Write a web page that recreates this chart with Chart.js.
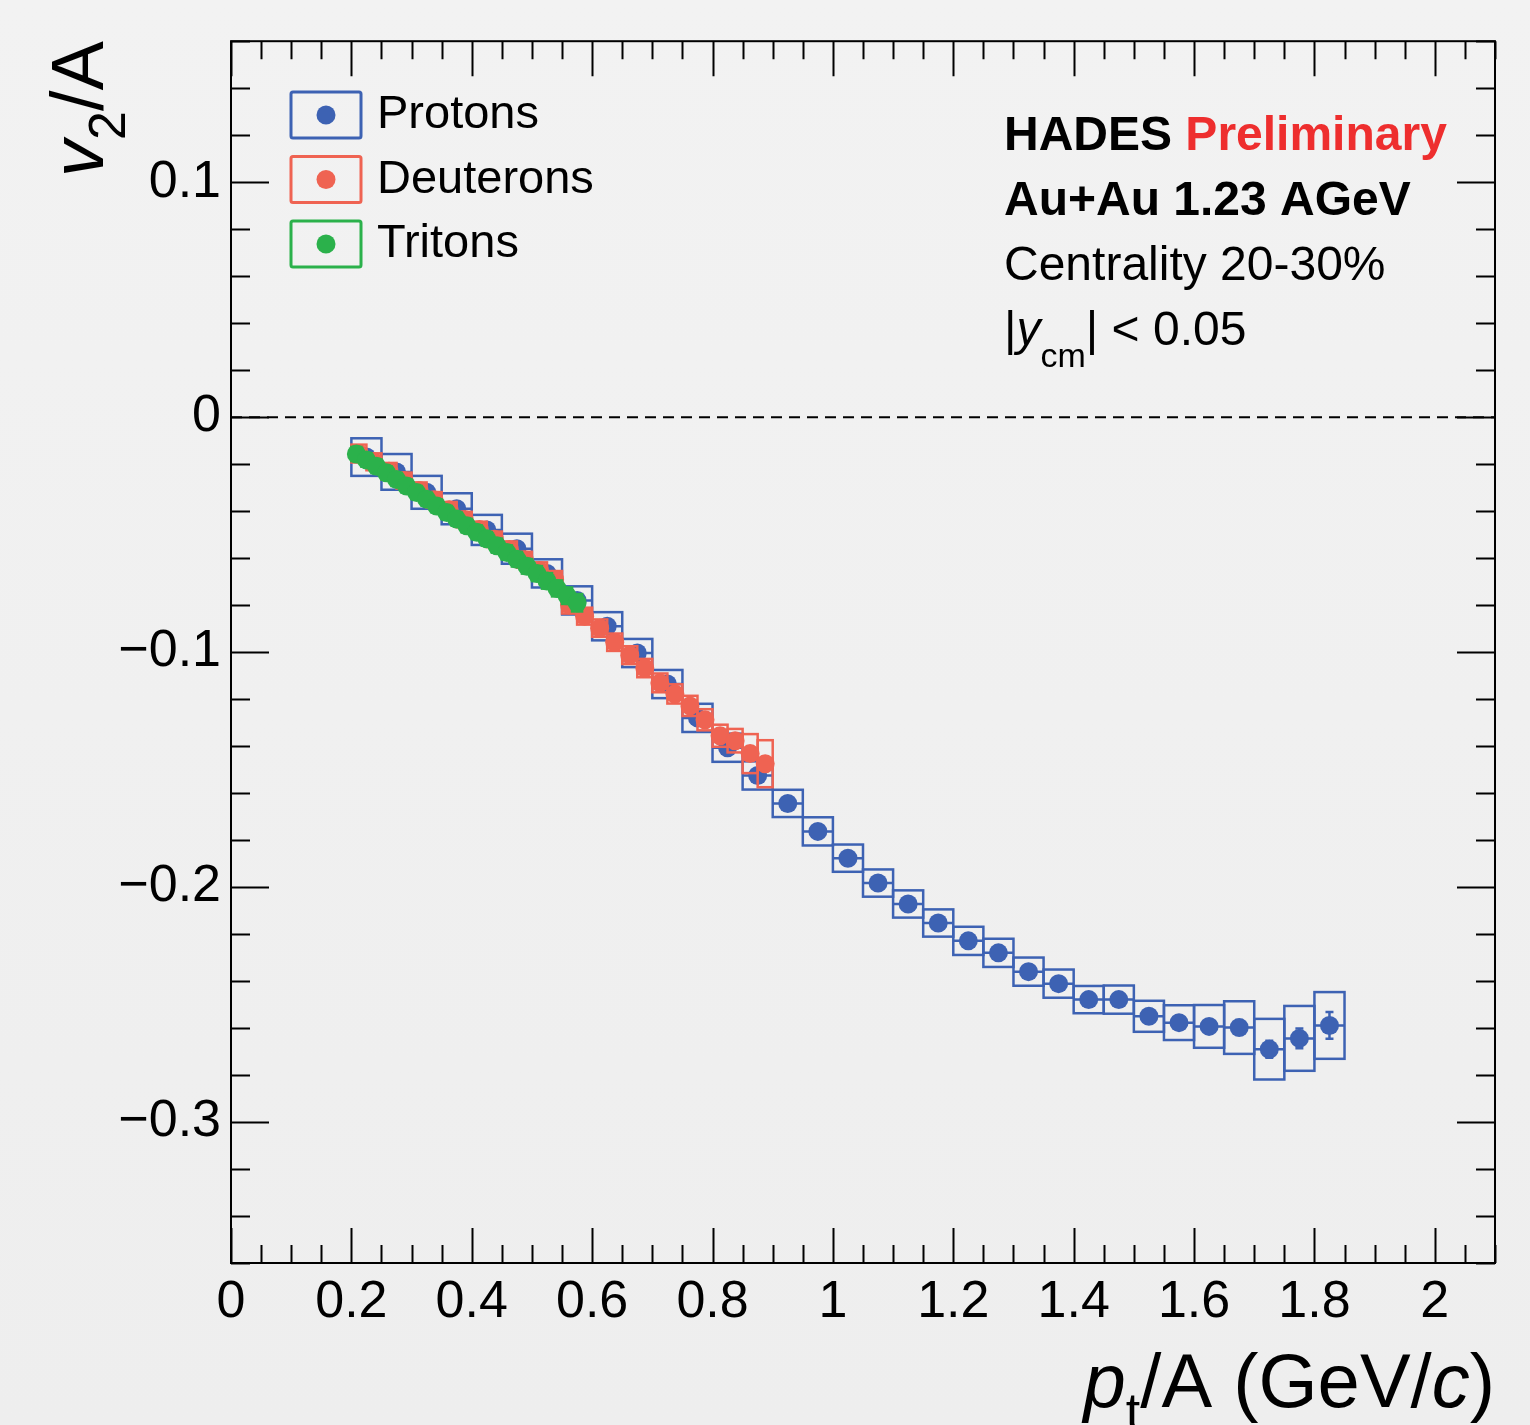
<!DOCTYPE html>
<html>
<head>
<meta charset="utf-8">
<title>HADES v2/A vs pt/A</title>
<script src="https://cdn.jsdelivr.net/npm/chart.js@4.4.1/dist/chart.umd.min.js"></script>
<style>
  html, body { margin: 0; padding: 0; background: #f0f0f0; }
  #wrap { width: 1530px; height: 1425px; }
  canvas { display: block; }
</style>
</head>
<body>
<div id="wrap"><canvas id="c" width="1530" height="1425"></canvas></div>
<script>
// ---- axis ranges and tick labels ----
const xRange = [0, 2.1];
const yRange = [-0.36, 0.16];
const xTickValues = [0, 0.2, 0.4, 0.6, 0.8, 1.0, 1.2, 1.4, 1.6, 1.8, 2.0];
const yTickValues = [-0.3, -0.2, -0.1, 0, 0.1];

// ---- protons: pt/A bin centres (bin width 0.05), v2/A, systematic and statistical errors ----
const protonPt = [0.225, 0.275, 0.325, 0.375, 0.425, 0.475, 0.525, 0.575, 0.625, 0.675, 0.725,
  0.775, 0.825, 0.875, 0.925, 0.975, 1.025, 1.075, 1.125, 1.175, 1.225, 1.275, 1.325, 1.375,
  1.425, 1.475, 1.525, 1.575, 1.625, 1.675, 1.725, 1.775, 1.825];
const protonV2 = [-0.0170, -0.0233, -0.0320, -0.0390, -0.0480, -0.0560, -0.0665, -0.0780,
  -0.0890, -0.1004, -0.1136, -0.1280, -0.1407, -0.1525, -0.1644, -0.1763, -0.1877, -0.1983,
  -0.2072, -0.2153, -0.2229, -0.2280, -0.2360, -0.2411, -0.2479, -0.2479, -0.2550, -0.2577,
  -0.2593, -0.2598, -0.2690, -0.2644, -0.2589];
const protonSys = [0.0080, 0.0076, 0.0070, 0.0066, 0.0064, 0.0064, 0.0060, 0.0060, 0.0060,
  0.0060, 0.0060, 0.0060, 0.0060, 0.0060, 0.0058, 0.0060, 0.0058, 0.0058, 0.0058, 0.0058,
  0.0060, 0.0060, 0.0060, 0.0060, 0.0058, 0.0060, 0.0066, 0.0074, 0.0091, 0.0112, 0.0129,
  0.0138, 0.0142];
const protonStat = [0.0008, 0.0008, 0.0008, 0.0008, 0.0008, 0.0009, 0.0009, 0.0009, 0.0010,
  0.0010, 0.0010, 0.0010, 0.0011, 0.0011, 0.0012, 0.0012, 0.0013, 0.0013, 0.0014, 0.0015,
  0.0016, 0.0017, 0.0018, 0.0019, 0.0020, 0.0022, 0.0024, 0.0026, 0.0029, 0.0032, 0.0036,
  0.0042, 0.0057];

// ---- deuterons: bin width 0.025 in pt/A ----
const deuteronPt = [0.2125, 0.2375, 0.2625, 0.2875, 0.3125, 0.3375, 0.3625, 0.3875, 0.4125,
  0.4375, 0.4625, 0.4875, 0.5125, 0.5375, 0.5625, 0.5875, 0.6125, 0.6375, 0.6625, 0.6875,
  0.7125, 0.7375, 0.7625, 0.7875, 0.8125, 0.8375, 0.8625, 0.8875];
const deuteronV2 = [-0.0155, -0.0190, -0.0230, -0.0270, -0.0312, -0.0352, -0.0394, -0.0436,
  -0.0478, -0.0520, -0.0563, -0.0607, -0.0653, -0.0690, -0.0800, -0.0847, -0.0898, -0.0958,
  -0.1013, -0.1068, -0.1131, -0.1178, -0.1229, -0.1288, -0.1356, -0.1377, -0.1432, -0.1475];
const deuteronSys = [0.0038, 0.0036, 0.0035, 0.0034, 0.0034, 0.0033, 0.0033, 0.0033, 0.0033,
  0.0033, 0.0034, 0.0034, 0.0035, 0.0035, 0.0036, 0.0036, 0.0037, 0.0037, 0.0038, 0.0039,
  0.0040, 0.0041, 0.0043, 0.0045, 0.0047, 0.0050, 0.0083, 0.0100];
const deuteronStat = [0.0006, 0.0006, 0.0006, 0.0006, 0.0006, 0.0006, 0.0006, 0.0006, 0.0007,
  0.0007, 0.0007, 0.0007, 0.0008, 0.0008, 0.0008, 0.0009, 0.0009, 0.0010, 0.0010, 0.0011,
  0.0012, 0.0013, 0.0014, 0.0015, 0.0016, 0.0018, 0.0020, 0.0023];

// ---- tritons: bin width 0.05/3 in pt/A ----
const tritonPt = [0.2083, 0.2250, 0.2417, 0.2583, 0.2750, 0.2917, 0.3083, 0.3250, 0.3417,
  0.3583, 0.3750, 0.3917, 0.4083, 0.4250, 0.4417, 0.4583, 0.4750, 0.4917, 0.5083, 0.5250,
  0.5417, 0.5583, 0.5750];
const tritonV2 = [-0.0157, -0.0182, -0.0209, -0.0237, -0.0265, -0.0293, -0.0321, -0.0349,
  -0.0378, -0.0406, -0.0434, -0.0462, -0.0490, -0.0518, -0.0547, -0.0576, -0.0605, -0.0635,
  -0.0666, -0.0697, -0.0729, -0.0760, -0.0790];
const tritonSys = [0.0030, 0.0029, 0.0029, 0.0028, 0.0028, 0.0028, 0.0028, 0.0028, 0.0028,
  0.0028, 0.0028, 0.0029, 0.0029, 0.0029, 0.0030, 0.0030, 0.0031, 0.0031, 0.0032, 0.0033,
  0.0034, 0.0035, 0.0037];
const tritonStat = [0.0006, 0.0006, 0.0006, 0.0006, 0.0006, 0.0006, 0.0007, 0.0007, 0.0007,
  0.0007, 0.0007, 0.0008, 0.0008, 0.0008, 0.0009, 0.0009, 0.0010, 0.0010, 0.0011, 0.0012,
  0.0013, 0.0014, 0.0016];

const seriesNames = ['Protons', 'Deuterons', 'Tritons'];

// ---- styles ----
const FONT = "'Liberation Sans', Arial, Helvetica, sans-serif";
const COL_P = '#3d62b3';
const COL_D = '#ef6352';
const COL_T = '#2bb14b';
const COL_PRELIM = '#ee2e2e';

const toXY = (xs, ys) => xs.map((x, i) => ({ x, y: ys[i] }));

// Systematic boxes and error bars, one entry per dataset index
const bands = [
  { pt: protonPt, v: protonV2, sys: protonSys, stat: protonStat, width: 0.05, color: COL_P },
  { pt: deuteronPt, v: deuteronV2, sys: deuteronSys, stat: deuteronStat, width: 0.025, color: COL_D },
  { pt: tritonPt, v: tritonV2, sys: tritonSys, stat: tritonStat, width: 0.05 / 3, color: COL_T }
];

function fmtX(v) { return String(Number(v.toFixed(1))); }
function fmtY(v) {
  if (Math.abs(v) < 1e-9) return '0';
  return (v < 0 ? '\u2212' : '') + Math.abs(v).toFixed(1);
}

// Draw a sequence of text runs (mixed fonts / sub-scripts) starting at x on baseline y
function runsWidth(ctx, runs) {
  let w = 0;
  for (const r of runs) { ctx.font = r.font; w += ctx.measureText(r.text).width + (r.gap || 0); }
  return w;
}
function drawRuns(ctx, runs, x, y) {
  let cx = x;
  ctx.textAlign = 'left';
  ctx.textBaseline = 'alphabetic';
  for (const r of runs) {
    ctx.font = r.font;
    ctx.fillStyle = r.color || '#000';
    ctx.fillText(r.text, cx, y + (r.dy || 0));
    cx += ctx.measureText(r.text).width + (r.gap || 0);
  }
}

const decor = {
  id: 'decor',
  beforeDraw(chart) {
    const { ctx, width, height } = chart;
    const g = ctx.createLinearGradient(0, 0, 0, height);
    g.addColorStop(0, '#f2f2f2');
    g.addColorStop(1, '#eeeeee');
    ctx.save();
    ctx.fillStyle = g;
    ctx.fillRect(0, 0, width, height);
    ctx.restore();
  },
  beforeDatasetsDraw(chart) {
    const { ctx, chartArea: a, scales: { y } } = chart;
    const y0 = y.getPixelForValue(0);
    ctx.save();
    ctx.strokeStyle = '#000';
    ctx.lineWidth = 2;
    ctx.setLineDash([11, 7]);
    ctx.beginPath();
    ctx.moveTo(a.left, y0);
    ctx.lineTo(a.right, y0);
    ctx.stroke();
    ctx.restore();
  },
  beforeDatasetDraw(chart, args) {
    const b = bands[args.index];
    if (!b) return;
    const { ctx, scales: { x, y } } = chart;
    ctx.save();
    ctx.strokeStyle = b.color;
    ctx.lineWidth = 2.5;
    for (let i = 0; i < b.pt.length; i++) {
      const xl = x.getPixelForValue(b.pt[i] - b.width / 2);
      const xr = x.getPixelForValue(b.pt[i] + b.width / 2);
      const yt = y.getPixelForValue(b.v[i] + b.sys[i]);
      const yb = y.getPixelForValue(b.v[i] - b.sys[i]);
      ctx.strokeRect(xl, yt, xr - xl, yb - yt);
      // horizontal bin-width bar
      const yc = y.getPixelForValue(b.v[i]);
      const xc = x.getPixelForValue(b.pt[i]);
      ctx.beginPath();
      ctx.moveTo(xl, yc); ctx.lineTo(xr, yc);
      // statistical error bar with end caps
      const ys1 = y.getPixelForValue(b.v[i] + b.stat[i]);
      const ys2 = y.getPixelForValue(b.v[i] - b.stat[i]);
      ctx.moveTo(xc, ys1); ctx.lineTo(xc, ys2);
      ctx.moveTo(xc - 4, ys1); ctx.lineTo(xc + 4, ys1);
      ctx.moveTo(xc - 4, ys2); ctx.lineTo(xc + 4, ys2);
      ctx.stroke();
    }
    ctx.restore();
  },
  afterDraw(chart) {
    const { ctx, chartArea: a, scales: { x, y } } = chart;
    ctx.save();
    // frame
    ctx.strokeStyle = '#000';
    ctx.lineWidth = 2;
    ctx.strokeRect(a.left, a.top, a.right - a.left, a.bottom - a.top);

    // tick marks on all four sides, pointing inwards
    ctx.beginPath();
    for (let k = 0; k <= 42; k++) {
      const v = k * 0.05;
      if (v > xRange[1] + 1e-9) break;
      const major = k % 4 === 0;
      const len = major ? 35 : 18;
      const px = Math.round(x.getPixelForValue(v)) + 0.5;
      ctx.moveTo(px, a.bottom); ctx.lineTo(px, a.bottom - len);
      ctx.moveTo(px, a.top); ctx.lineTo(px, a.top + len);
    }
    for (let k = -18; k <= 8; k++) {
      const v = k * 0.02;
      const major = k % 5 === 0;
      const len = major ? 38 : 19;
      const py = Math.round(y.getPixelForValue(v)) + 0.5;
      ctx.moveTo(a.left, py); ctx.lineTo(a.left + len, py);
      ctx.moveTo(a.right, py); ctx.lineTo(a.right - len, py);
    }
    ctx.stroke();

    // x-axis title, right-aligned to the end of the axis
    const xt = [
      { text: 'p', font: `italic 76px ${FONT}` },
      { text: 't', font: `52px ${FONT}`, dy: 22 },
      { text: '/A (GeV/', font: `76px ${FONT}` },
      { text: 'c', font: `italic 76px ${FONT}` },
      { text: ')', font: `76px ${FONT}` }
    ];
    drawRuns(ctx, xt, a.right - runsWidth(ctx, xt), 1407);

    // y-axis title, rotated, ending at the top of the axis
    const yt = [
      { text: 'v', font: `italic 74px ${FONT}` },
      { text: '2', font: `52px ${FONT}`, dy: 22 },
      { text: '/A', font: `74px ${FONT}` }
    ];
    ctx.save();
    ctx.translate(103, a.top);
    ctx.rotate(-Math.PI / 2);
    drawRuns(ctx, yt, -runsWidth(ctx, yt), 0);
    ctx.restore();

    // legend
    const cols = [COL_P, COL_D, COL_T];
    for (let i = 0; i < 3; i++) {
      const cy = 115 + i * 64.5;
      ctx.strokeStyle = cols[i];
      ctx.lineWidth = 3;
      ctx.beginPath();
      if (ctx.roundRect) ctx.roundRect(291, cy - 23, 70, 46, 2); else ctx.rect(291, cy - 23, 70, 46);
      ctx.stroke();
      ctx.fillStyle = cols[i];
      ctx.beginPath();
      ctx.arc(326, cy, 9.5, 0, Math.PI * 2);
      ctx.fill();
      ctx.fillStyle = '#000';
      ctx.font = `47px ${FONT}`;
      ctx.textAlign = 'left';
      ctx.textBaseline = 'alphabetic';
      ctx.fillText(seriesNames[i], 377, cy + 13);
    }

    // experiment / system labels
    drawRuns(ctx, [
      { text: 'HADES ', font: `bold 48px ${FONT}` },
      { text: 'Preliminary', font: `bold 48px ${FONT}`, color: COL_PRELIM }
    ], 1004, 150);
    drawRuns(ctx, [{ text: 'Au+Au 1.23 AGeV', font: `bold 48px ${FONT}` }], 1004, 215);
    drawRuns(ctx, [{ text: 'Centrality 20-30%', font: `48px ${FONT}` }], 1004, 280);
    drawRuns(ctx, [
      { text: '|', font: `48px ${FONT}` },
      { text: 'y', font: `italic 48px ${FONT}` },
      { text: 'cm', font: `34px ${FONT}`, dy: 22 },
      { text: '| < 0.05', font: `48px ${FONT}` }
    ], 1004, 345);
    ctx.restore();
  }
};

const pointStyle = (c) => ({
  showLine: false,
  pointRadius: 9.5,
  pointHoverRadius: 9.5,
  pointBorderWidth: 0,
  pointBackgroundColor: c,
  pointBorderColor: c,
  backgroundColor: c,
  borderColor: c
});

new Chart(document.getElementById('c'), {
  type: 'scatter',
  data: {
    datasets: [
      Object.assign({ label: seriesNames[0], data: toXY(protonPt, protonV2), order: 3 }, pointStyle(COL_P)),
      Object.assign({ label: seriesNames[1], data: toXY(deuteronPt, deuteronV2), order: 2 }, pointStyle(COL_D)),
      Object.assign({ label: seriesNames[2], data: toXY(tritonPt, tritonV2), order: 1 }, pointStyle(COL_T))
    ]
  },
  options: {
    responsive: false,
    devicePixelRatio: 1,
    animation: false,
    events: [],
    layout: { padding: { left: 0, right: 35, top: 40, bottom: 0 } },
    plugins: { legend: { display: false }, tooltip: { enabled: false } },
    scales: {
      x: {
        type: 'linear',
        min: xRange[0],
        max: xRange[1],
        afterBuildTicks: (s) => { s.ticks = xTickValues.map(v => ({ value: v })); },
        afterFit: (s) => { s.height = 162; },
        grid: { display: false, drawTicks: false },
        border: { display: false },
        ticks: {
          padding: 8,
          maxRotation: 0,
          autoSkip: false,
          color: '#000',
          font: { family: FONT, size: 52 },
          callback: (v) => fmtX(v)
        }
      },
      y: {
        type: 'linear',
        min: yRange[0],
        max: yRange[1],
        afterBuildTicks: (s) => { s.ticks = yTickValues.map(v => ({ value: v })); },
        afterFit: (s) => { s.width = 231; },
        grid: { display: false, drawTicks: false },
        border: { display: false },
        ticks: {
          padding: 10,
          autoSkip: false,
          color: '#000',
          font: { family: FONT, size: 52 },
          callback: (v) => fmtY(v)
        }
      }
    }
  },
  plugins: [decor]
});
</script>
</body>
</html>
